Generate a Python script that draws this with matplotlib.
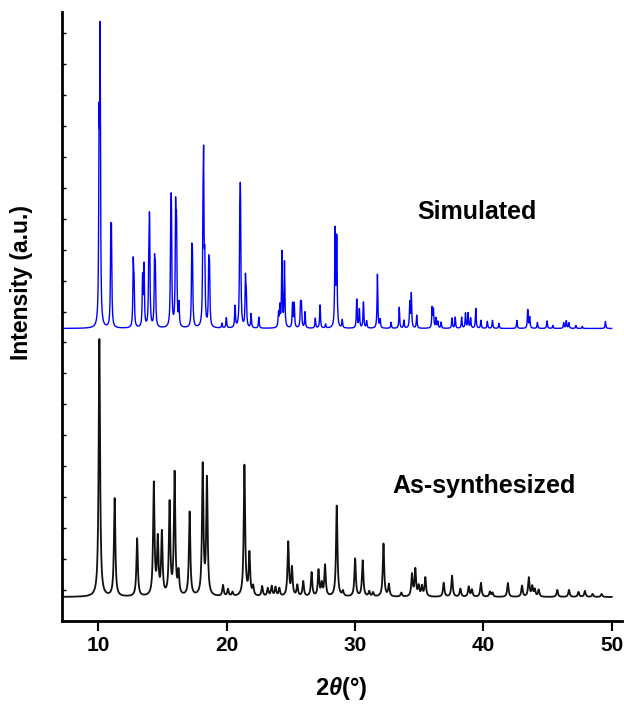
import matplotlib
matplotlib.use('Agg')
import matplotlib.pyplot as plt
import numpy as np

plt.rcParams['font.family'] = ['Liberation Sans', 'DejaVu Sans']
plt.rcParams['mathtext.fontset'] = 'custom'
plt.rcParams['mathtext.rm'] = 'Liberation Sans:bold'
plt.rcParams['mathtext.it'] = 'Liberation Sans:italic:bold'
plt.rcParams['mathtext.bf'] = 'Liberation Sans:bold'

# peak positions (2theta) and heights (a.u.)
sim_pos = [10.06, 10.14, 10.97, 11.02, 12.72, 12.78, 13.45, 13.56, 13.93, 13.99,
           14.38, 14.44, 15.64, 15.69, 16.02, 16.09, 16.28, 17.28, 17.33, 18.15,
           18.20, 18.29, 18.60, 18.66, 19.63, 19.97, 20.65, 21.02, 21.07, 21.46,
           21.52, 21.90, 22.50, 24.03, 24.14, 24.30, 24.50, 25.13, 25.26, 25.75,
           25.82, 26.10, 26.90, 27.27, 27.70, 28.44, 28.57, 29.00, 30.13, 30.33,
           30.65, 30.90, 31.74, 31.95, 32.80, 33.44, 33.80, 34.26, 34.38, 34.80,
           36.00, 36.10, 36.30, 36.45, 36.70, 37.55, 37.80, 38.30, 38.60, 38.80,
           39.00, 39.40, 39.80, 40.30, 40.70, 41.20, 42.60, 43.45, 43.60, 44.20,
           44.95, 45.40, 46.25, 46.45, 46.65, 47.20, 47.70, 49.50]
sim_int = [182, 278, 76, 80, 61, 40, 52, 60, 52, 106,
           60, 52, 82, 106, 110, 96, 22, 65, 60, 85,
           147, 58, 58, 52, 5, 11, 23, 86, 117, 46,
           30, 14, 11, 15, 20, 75, 65, 26, 24, 24,
           22, 16, 10, 25, 4, 96, 94, 8, 31, 20,
           28, 7, 54, 9, 6, 21, 8, 25, 34, 13,
           20, 18, 10, 7, 6, 11, 11, 11, 15, 15,
           10, 20, 8, 7, 8, 5, 8, 20, 11, 6,
           8, 3, 6, 8, 6, 3, 2, 7]

syn_pos = [10.08, 11.27, 13.02, 14.32, 14.63, 14.95, 15.55, 15.94, 16.25, 17.11,
           18.13, 18.46, 19.71, 20.10, 20.45, 21.38, 21.77, 22.06, 22.76, 23.20,
           23.50, 23.80, 24.10, 24.79, 25.08, 25.50, 25.96, 26.61, 27.15, 27.40,
           27.66, 28.57, 29.05, 30.00, 30.59, 31.10, 31.40, 32.21, 32.63, 33.60,
           34.43, 34.69, 34.95, 35.20, 35.47, 36.90, 37.55, 38.20, 38.85, 39.10,
           39.80, 40.50, 40.70, 41.90, 43.00, 43.53, 43.80, 44.00, 44.30, 45.75,
           46.66, 47.40, 47.90, 48.50, 49.20]
syn_int = [258, 98, 58, 112, 55, 62, 92, 122, 22, 84,
           130, 116, 11, 7, 4, 131, 42, 9, 10, 8,
           10, 9, 8, 54, 28, 11, 15, 24, 26, 12,
           31, 91, 5, 38, 36, 5, 4, 53, 12, 4,
           22, 27, 10, 10, 19, 14, 21, 8, 10, 7,
           14, 5, 4, 14, 11, 19, 10, 7, 7, 7,
           7, 5, 6, 3, 3]


def pattern(x, pos, hgt, fwhm):
    y = np.zeros_like(x)
    for c, h in zip(pos, hgt):
        y += h / (1 + ((x - c) / (fwhm / 2)) ** 2)
    return y


x_sim = np.arange(7.2, 50.0, 0.02)
x_syn = np.arange(7.2, 50.0, 0.01)
y_sim = pattern(x_sim, sim_pos, sim_int, 0.07) + 262
y_syn = pattern(x_syn, syn_pos, syn_int, 0.13) - 7

fig = plt.figure(figsize=(6.24, 7.04), dpi=100)
ax = fig.add_axes([62 / 624, 83 / 704, 560 / 624, 609 / 704])

ax.plot(x_syn, y_syn, color='#111111', lw=1.3)
ax.plot(x_sim, y_sim, color='#0000ff', lw=1.0)

ax.set_xlim(7.17, 50.79)
ax.set_ylim(-31, 579)

for s in ['top', 'right']:
    ax.spines[s].set_visible(False)
for s in ['left', 'bottom']:
    ax.spines[s].set_linewidth(2)

ax.set_xticks([10, 20, 30, 40, 50])
ax.tick_params(axis='x', direction='out', length=7, width=1.5, labelsize=15, pad=4)
for t in ax.get_xticklabels():
    t.set_fontweight('bold')
ax.set_yticks(np.arange(0, 579, 31))
ax.tick_params(axis='y', direction='in', length=3, width=1, labelleft=False)

fig.text(341 / 624, 1 - 688 / 704, r'2$\theta$(°)', fontsize=17, fontweight='bold',
         ha='center', va='center')
fig.text(22 / 624, 1 - 282 / 704, 'Intensity (a.u.)', fontsize=16.5, fontweight='bold',
         ha='center', va='center', rotation=90)

fig.text(477 / 624, 1 - 212 / 704, 'Simulated', fontsize=18, fontweight='bold',
         ha='center', va='center')
fig.text(484 / 624, 1 - 486 / 704, 'As-synthesized', fontsize=18, fontweight='bold',
         ha='center', va='center')

fig.savefig('out.png', dpi=100)
